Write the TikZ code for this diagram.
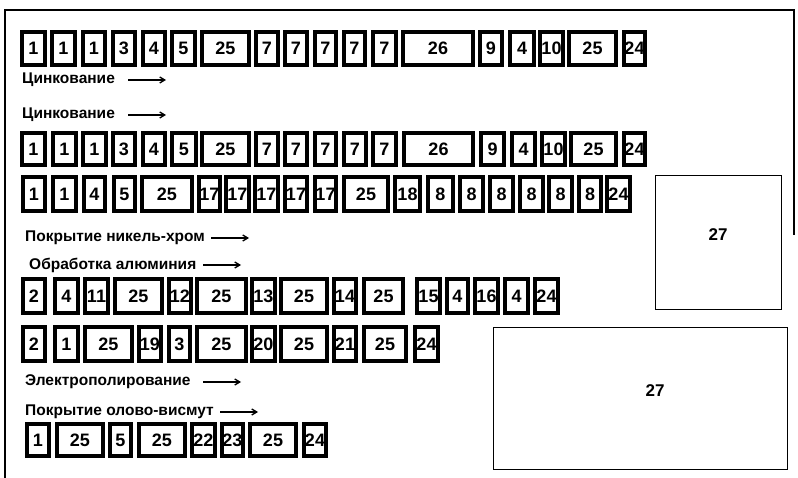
\documentclass[tikz,border=0pt]{standalone}
\usepackage{fontspec}
\setmainfont{Liberation Sans}
\usetikzlibrary{arrows.meta}
\tikzset{
 cell/.style={draw, line width=3.8pt, inner sep=0pt, font=\bfseries\fontsize{18}{18}\selectfont},
 bigbox/.style={draw, line width=1.6pt, inner sep=0pt},
 bignum/.style={inner sep=0pt, font=\bfseries\fontsize{17}{17}\selectfont},
 lbl/.style={anchor=west, inner sep=0pt, font=\bfseries\fontsize{15.5}{15.5}\selectfont},
 flow/.style={line width=1.3pt, -{Straight Barb[length=5pt,width=6pt]}},
 frame/.style={line width=2pt}
}
\newcommand\mycell[6]{\pgfmathsetmacro\cw{#3-#2-3.8}\pgfmathsetmacro\ch{#5-#4-3.8}\node[cell,minimum width=\cw pt,minimum height=\ch pt] (#1) at ({(#2+#3)/2},{(#4+#5)/2}) {#6};}
\begin{document}
\begin{tikzpicture}[x=1pt,y=-1pt]
\useasboundingbox (0,0) rectangle (798,478);
% frame
\coordinate (fbl) at (5,478);
\coordinate (ftl) at (5,10);
\coordinate (ftr) at (794,10);
\coordinate (fbr) at (794,235);
\draw[frame] (fbl) -- (ftl) -- (ftr) -- (fbr);
% row 1
\foreach \a/\b/\t [count=\i] in {20/47/1,50/77/1,81/107/1,111/137/3,141/167/4,170/197/5,200/251/25,254/280/7,283/309/7,313/338/7,342/367/7,371/398/7,401/475/26,478/504/9,508/536/4,538/565/10,567/618/25,622/647/24}
  {\mycell{ra\i}{\a}{\b}{30}{67}{\t}}
% row 2
\foreach \a/\b/\t [count=\i] in {20/47/1,51/78/1,81/108/1,111/137/3,141/167/4,170/198/5,200/251/25,254/280/7,283/309/7,313/338/7,342/368/7,371/398/7,402/475/26,479/506/9,510/537/4,540/567/10,569/618/25,622/647/24}
  {\mycell{rb\i}{\a}{\b}{131}{167}{\t}}
% row 3
\foreach \a/\b/\t [count=\i] in {21/47/1,51/78/1,82/107/4,112/137/5,140/194/25,197/222/17,224/251/17,253/280/17,283/309/17,313/338/17,342/390/25,393/422/18,426/455/8,458/485/8,488/515/8,518/545/8,547/574/8,577/603/8,605/632/24}
  {\mycell{rc\i}{\a}{\b}{175}{213}{\t}}
% row 4
\foreach \a/\b/\t [count=\i] in {21/47/2,53/80/4,83/110/11,113/164/25,167/193/12,195/248/25,250/277/13,279/329/25,332/358/14,362/405/25,415/442/15,445/470/4,473/500/16,503/530/4,533/560/24}
  {\mycell{rd\i}{\a}{\b}{277}{315}{\t}}
% row 5
\foreach \a/\b/\t [count=\i] in {21/47/2,53/80/1,83/134/25,137/163/19,167/192/3,195/248/25,250/277/20,279/329/25,332/358/21,362/408/25,413/440/24}
  {\mycell{re\i}{\a}{\b}{325}{363}{\t}}
% row 6
\foreach \a/\b/\t [count=\i] in {25/51/1,55/105/25,108/133/5,137/187/25,190/217/22,220/245/23,248/298/25,302/328/24}
  {\mycell{rf\i}{\a}{\b}{422}{458}{\t}}
% big boxes
\node[bigbox, minimum width=126pt, minimum height=134pt] (bigA) at (718.5,242.5) {};
\node[bignum] (bigAt) at (718,235) {27};
\node[bigbox, minimum width=294pt, minimum height=142pt] (bigB) at (640.5,398.5) {};
\node[bignum] (bigBt) at (655,391) {27};
% labels
\node[lbl] (l1) at (22,80) {Цинкование};
\coordinate (s1) at (128,80); \coordinate (a1) at (166,80);
\draw[flow] (s1) -- (a1);
\node[lbl] (l2) at (22,115) {Цинкование};
\coordinate (s2) at (128,115); \coordinate (a2) at (166,115);
\draw[flow] (s2) -- (a2);
\node[lbl] (l3) at (25,238) {Покрытие никель-хром};
\coordinate (s3) at (211,238); \coordinate (a3) at (249,238);
\draw[flow] (s3) -- (a3);
\node[lbl] (l4) at (29,265) {Обработка алюминия};
\coordinate (s4) at (203,265); \coordinate (a4) at (241,265);
\draw[flow] (s4) -- (a4);
\node[lbl] (l5) at (25,382) {Электрополирование};
\coordinate (s5) at (203,382); \coordinate (a5) at (241,382);
\draw[flow] (s5) -- (a5);
\node[lbl] (l6) at (25,412) {Покрытие олово-висмут};
\coordinate (s6) at (220,412); \coordinate (a6) at (258,412);
\draw[flow] (s6) -- (a6);
\end{tikzpicture}
\end{document}
